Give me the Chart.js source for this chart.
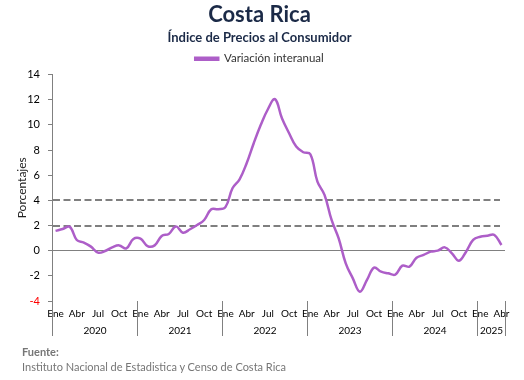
<!DOCTYPE html>
<html lang="es">
<head>
<meta charset="utf-8">
<title>Costa Rica - IPC</title>
<script src="https://cdn.jsdelivr.net/npm/chart.js@4.4.1/dist/chart.umd.min.js"></script>
<style>
  html, body { margin: 0; padding: 0; background: #fff; }
  #wrap { position: relative; width: 524px; height: 380px; font-family: Lato, 'Open Sans', sans-serif; }
  #wrap canvas { position: absolute; left: 0; top: 0; }
  .fuente { position: absolute; left: 22px; color: #767676; font-size: 11px; white-space: nowrap; }
</style>
</head>
<body>
<div id="wrap">
  <canvas id="ipc" width="524" height="380"></canvas>
  <div class="fuente" style="top:345px; font-weight:bold;">Fuente:</div>
  <div class="fuente" style="top:360px;">Instituto Nacional de Estadistica y Censo de Costa Rica</div>
</div>
<script>
// Meses y años del eje X
const meses = ['Ene', 'Feb', 'Mar', 'Abr', 'May', 'Jun', 'Jul', 'Ago', 'Sep', 'Oct', 'Nov', 'Dic'];
const anios = ['2020', '2021', '2022', '2023', '2024', '2025'];

// Variación interanual del IPC (%), ene-2020 a abr-2025
const valores = [
  1.57, 1.72, 1.90, 0.85, 0.64, 0.32, -0.16, -0.03, 0.26, 0.42, 0.18, 0.93,
  0.95, 0.36, 0.42, 1.17, 1.33, 1.93, 1.43, 1.70, 2.04, 2.44, 3.29, 3.30,
  3.46, 4.96, 5.67, 6.95, 8.54, 10.00, 11.24, 12.04, 10.50, 9.33, 8.27, 7.82,
  7.66, 5.49, 4.43, 2.44, 0.98, -1.01, -2.20, -3.26, -2.33, -1.35, -1.67, -1.80,
  -1.90, -1.19, -1.27, -0.56, -0.34, -0.08, 0.00, 0.26, -0.21, -0.80, -0.08, 0.85,
  1.11, 1.19, 1.25, 0.45
];

// Líneas punteadas de referencia (meta de inflación)
const lineasMeta = [4, 2];

// Etiquetas de categoría: mes + año
const etiquetas = valores.map((v, i) => meses[i % 12] + ' ' + anios[Math.floor(i / 12)]);

const colorLinea = '#ad5ec8';
const colorTitulo = '#1b2a47';

// Plugin: líneas de meta, separadores y etiquetas de año
const extrasPlugin = {
  id: 'extras',
  beforeDatasetsDraw(chart) {
    const { ctx, chartArea, scales: { y } } = chart;
    ctx.save();
    ctx.strokeStyle = '#7f7f7f';
    ctx.lineWidth = 2;
    ctx.setLineDash([7, 3.5]);
    lineasMeta.forEach(v => {
      const py = Math.round(y.getPixelForValue(v));
      ctx.beginPath();
      ctx.moveTo(chartArea.left + 1, py);
      ctx.lineTo(chartArea.right - 5, py);
      ctx.stroke();
    });
    ctx.restore();
  },
  afterDraw(chart) {
    const { ctx, chartArea, scales: { x } } = chart;
    const paso = x.getPixelForValue(1) - x.getPixelForValue(0);
    const yTop = chartArea.bottom;
    const yBot = chartArea.bottom + 35;
    ctx.save();
    ctx.strokeStyle = '#808080';
    ctx.lineWidth = 1;
    ctx.fillStyle = '#000';
    ctx.font = '10px Lato';
    ctx.textAlign = 'center';
    ctx.textBaseline = 'middle';
    let inicio = 0;
    anios.forEach((anio, k) => {
      const fin = Math.min(inicio + 12, valores.length);
      const x0 = Math.round(x.getPixelForValue(inicio) - paso / 2) + 0.5;
      const x1 = Math.round(x.getPixelForValue(fin - 1) + paso / 2) + 0.5;
      ctx.beginPath();
      ctx.moveTo(x0, yTop);
      ctx.lineTo(x0, yBot);
      if (k === anios.length - 1) {
        ctx.moveTo(x1, yTop);
        ctx.lineTo(x1, yBot);
      }
      ctx.stroke();
      ctx.fillText(anio, (x0 + x1) / 2, chartArea.bottom + 30);
      inicio = fin;
    });
    ctx.restore();
  }
};

const ctx = document.getElementById('ipc').getContext('2d');
const grafico = new Chart(ctx, {
  type: 'line',
  data: {
    labels: etiquetas,
    datasets: [{
      label: 'Variación interanual',
      data: valores,
      borderColor: colorLinea,
      backgroundColor: colorLinea,
      borderWidth: 2.5,
      pointRadius: 0,
      tension: 0.4,
      fill: false
    }]
  },
  options: {
    responsive: false,
    animation: false,
    layout: { padding: { left: 14, right: 19, top: 0, bottom: 53 } },
    plugins: {
      title: {
        display: true,
        text: 'Costa Rica',
        color: colorTitulo,
        font: { family: 'Lato', size: 22, weight: 'bold' },
        padding: { top: 2, bottom: 0 }
      },
      subtitle: {
        display: true,
        text: 'Índice de Precios al Consumidor',
        color: colorTitulo,
        font: { family: 'Lato', size: 13, weight: 'bold' },
        padding: { top: 2, bottom: 3 }
      },
      legend: {
        display: true,
        labels: {
          boxWidth: 23,
          boxHeight: 2,
          color: '#333',
          font: { family: 'Lato', size: 11.5 },
          padding: 4
        }
      },
      tooltip: { enabled: false }
    },
    scales: {
      x: {
        offset: true,
        grid: { display: false, drawTicks: false },
        border: { display: false },
        ticks: {
          autoSkip: false,
          maxRotation: 0,
          minRotation: 0,
          color: '#000',
          font: { family: 'Lato', size: 10 },
          padding: 7,
          callback: (v, i) => (i % 3 === 0 ? meses[i % 12] : '')
        }
      },
      y: {
        min: -4,
        max: 14,
        afterFit: scale => { scale.width = 38; },
        ticks: {
          stepSize: 2,
          color: c => (c.tick && c.tick.value === -4 ? '#ff0000' : '#000'),
          font: { family: 'Lato', size: 11 },
          padding: 8
        },
        grid: {
          color: c => (c.tick && c.tick.value === 0 ? '#808080' : 'rgba(0,0,0,0)'),
          tickColor: '#808080',
          tickLength: 4,
          lineWidth: 1
        },
        border: { color: '#808080' },
        title: {
          display: true,
          text: 'Porcentajes',
          color: '#222',
          font: { family: 'Lato', size: 12 },
          padding: { top: 1, bottom: 0 }
        }
      }
    }
  },
  plugins: [extrasPlugin]
});
</script>
</body>
</html>
